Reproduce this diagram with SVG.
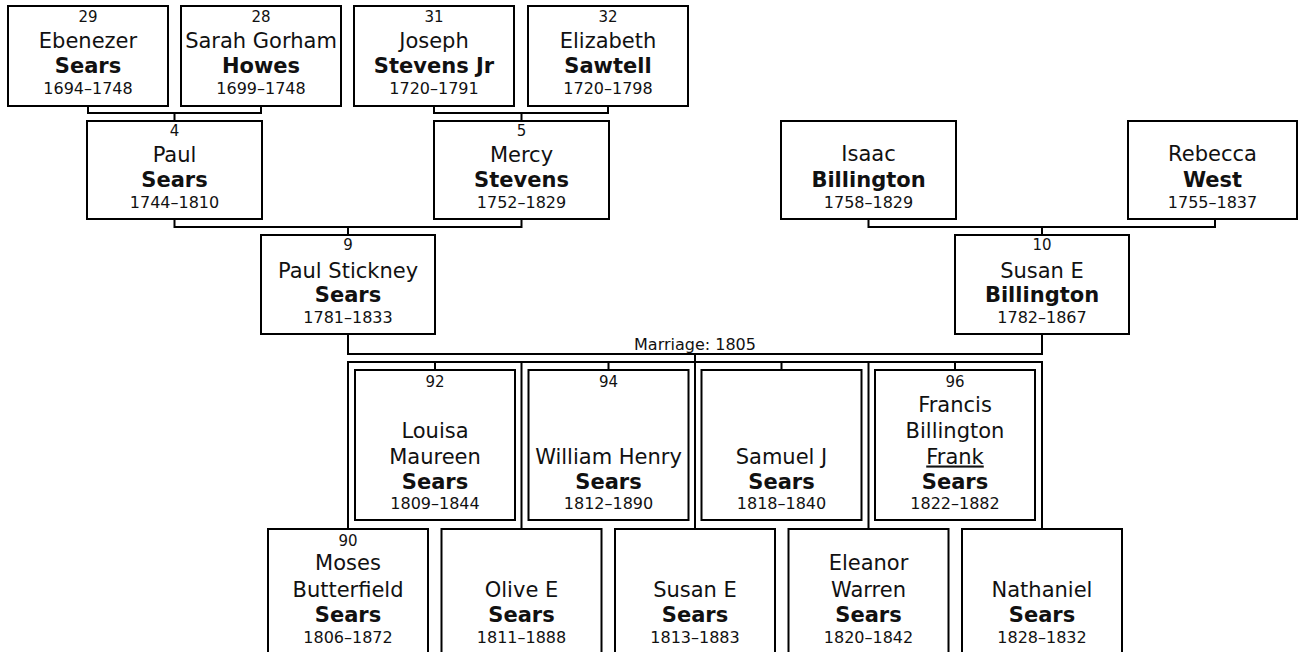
<svg xmlns="http://www.w3.org/2000/svg" width="1299" height="652" viewBox="0 0 1299 652">
<style>
.box{fill:#fff;stroke:#000;stroke-width:2}
.ln{fill:none;stroke:#000;stroke-width:2}
text{font-family:"DejaVu Sans","Liberation Sans",sans-serif;text-anchor:middle;fill:#111}
.n{font-size:15px}
.nm{font-size:21px}
.sn{font-size:21px;font-weight:bold}
.yr{font-size:16px}
.u{text-decoration:underline}
</style>
<rect width="1299" height="652" fill="#fff"/>
<g id="connectors">
<path class="ln" d="M88,106V113H261V106M174.5,113V121"/>
<path class="ln" d="M434,106V113H608V106M521.5,113V121"/>
<path class="ln" d="M174.5,219V227H521.5V219M348,227V235"/>
<path class="ln" d="M868.5,219V227H1215V219M1042,227V235"/>
<path class="ln" d="M348,334V354H1042V334M695,354V362"/>
<path class="ln" d="M348,529V362H1042V529M521.5,362V529M695,362V529M868.5,362V529"/>
<path class="ln" d="M435,362V370M608.5,362V370M781.5,362V370M955,362V370"/>
<text class="yr" x="695" y="350">Marriage: 1805</text>
</g>
<g id="p29"><rect class="box" x="8" y="6" width="160" height="100"/><text class="n" x="88" y="22">29</text><text class="nm" x="88" y="48">Ebenezer</text><text class="sn" x="88" y="73">Sears</text><text class="yr" x="88" y="94">1694–1748</text></g>
<g id="p28"><rect class="box" x="181" y="6" width="160" height="100"/><text class="n" x="261" y="22">28</text><text class="nm" x="261" y="48">Sarah Gorham</text><text class="sn" x="261" y="73">Howes</text><text class="yr" x="261" y="94">1699–1748</text></g>
<g id="p31"><rect class="box" x="354" y="6" width="160" height="100"/><text class="n" x="434" y="22">31</text><text class="nm" x="434" y="48">Joseph</text><text class="sn" x="434" y="73">Stevens Jr</text><text class="yr" x="434" y="94">1720–1791</text></g>
<g id="p32"><rect class="box" x="528" y="6" width="160" height="100"/><text class="n" x="608" y="22">32</text><text class="nm" x="608" y="48">Elizabeth</text><text class="sn" x="608" y="73">Sawtell</text><text class="yr" x="608" y="94">1720–1798</text></g>
<g id="p4"><rect class="box" x="87" y="121" width="175" height="98"/><text class="n" x="174.5" y="136">4</text><text class="nm" x="174.5" y="162">Paul</text><text class="sn" x="174.5" y="187">Sears</text><text class="yr" x="174.5" y="208">1744–1810</text></g>
<g id="p5"><rect class="box" x="434" y="121" width="175" height="98"/><text class="n" x="521.5" y="136">5</text><text class="nm" x="521.5" y="162">Mercy</text><text class="sn" x="521.5" y="187">Stevens</text><text class="yr" x="521.5" y="208">1752–1829</text></g>
<g id="isaac"><rect class="box" x="781" y="121" width="175" height="98"/><text class="nm" x="868.5" y="161">Isaac</text><text class="sn" x="868.5" y="187">Billington</text><text class="yr" x="868.5" y="208">1758–1829</text></g>
<g id="rebecca"><rect class="box" x="1128" y="121" width="169" height="98"/><text class="nm" x="1212.5" y="161">Rebecca</text><text class="sn" x="1212.5" y="187">West</text><text class="yr" x="1212.5" y="208">1755–1837</text></g>
<g id="p9"><rect class="box" x="261" y="235" width="174" height="99"/><text class="n" x="348" y="250">9</text><text class="nm" x="348" y="278">Paul Stickney</text><text class="sn" x="348" y="302">Sears</text><text class="yr" x="348" y="323">1781–1833</text></g>
<g id="p10"><rect class="box" x="955" y="235" width="174" height="99"/><text class="n" x="1042" y="250">10</text><text class="nm" x="1042" y="278">Susan E</text><text class="sn" x="1042" y="302">Billington</text><text class="yr" x="1042" y="323">1782–1867</text></g>
<g id="p92"><rect class="box" x="355" y="370" width="160" height="150"/><text class="n" x="435" y="387">92</text><text class="nm" x="435" y="437.5">Louisa</text><text class="nm" x="435" y="463.5">Maureen</text><text class="sn" x="435" y="489">Sears</text><text class="yr" x="435" y="509">1809–1844</text></g>
<g id="p94"><rect class="box" x="528.5" y="370" width="160" height="150"/><text class="n" x="608.5" y="387">94</text><text class="nm" x="608.5" y="463.5">William Henry</text><text class="sn" x="608.5" y="489">Sears</text><text class="yr" x="608.5" y="509">1812–1890</text></g>
<g id="samuel"><rect class="box" x="701.5" y="370" width="160" height="150"/><text class="nm" x="781.5" y="463.5">Samuel J</text><text class="sn" x="781.5" y="489">Sears</text><text class="yr" x="781.5" y="509">1818–1840</text></g>
<g id="p96"><rect class="box" x="875" y="370" width="160" height="150"/><text class="n" x="955" y="387">96</text><text class="nm" x="955" y="412">Francis</text><text class="nm" x="955" y="437.5">Billington</text><text class="nm u" x="955" y="463.5">Frank</text><text class="sn" x="955" y="489">Sears</text><text class="yr" x="955" y="509">1822–1882</text></g>
<g id="p90"><rect class="box" x="268" y="529" width="160" height="140"/><text class="n" x="348" y="546">90</text><text class="nm" x="348" y="570">Moses</text><text class="nm" x="348" y="596.5">Butterfield</text><text class="sn" x="348" y="622">Sears</text><text class="yr" x="348" y="643">1806–1872</text></g>
<g id="olive"><rect class="box" x="441.5" y="529" width="160" height="140"/><text class="nm" x="521.5" y="596.5">Olive E</text><text class="sn" x="521.5" y="622">Sears</text><text class="yr" x="521.5" y="643">1811–1888</text></g>
<g id="susan"><rect class="box" x="615" y="529" width="160" height="140"/><text class="nm" x="695" y="596.5">Susan E</text><text class="sn" x="695" y="622">Sears</text><text class="yr" x="695" y="643">1813–1883</text></g>
<g id="eleanor"><rect class="box" x="788.5" y="529" width="160" height="140"/><text class="nm" x="868.5" y="570">Eleanor</text><text class="nm" x="868.5" y="596.5">Warren</text><text class="sn" x="868.5" y="622">Sears</text><text class="yr" x="868.5" y="643">1820–1842</text></g>
<g id="nathaniel"><rect class="box" x="962" y="529" width="160" height="140"/><text class="nm" x="1042" y="596.5">Nathaniel</text><text class="sn" x="1042" y="622">Sears</text><text class="yr" x="1042" y="643">1828–1832</text></g>
</svg>
